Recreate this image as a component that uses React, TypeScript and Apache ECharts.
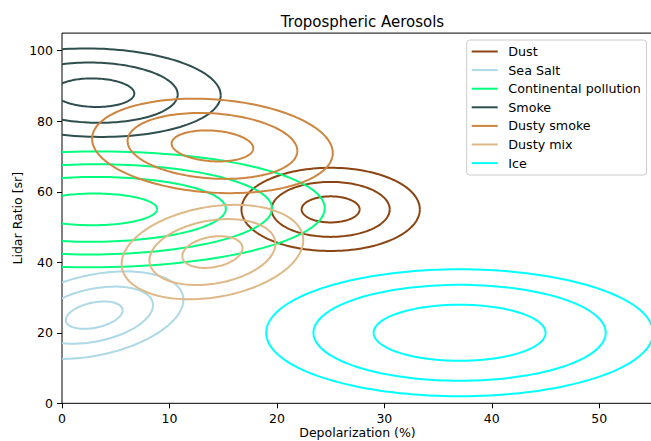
import React, { useEffect, useRef } from 'react';
import * as echarts from 'echarts';

// Aerosol types (legend order) and their colours
const categories = ['Dust', 'Sea Salt', 'Continental pollution', 'Smoke', 'Dusty smoke', 'Dusty mix', 'Ice'];
const colors = ['#8B4513', '#ADD8E6', '#00FF7F', '#2F4F4F', '#CD853F', '#DEB887', '#00FFFF'];

// Contour centres (Depolarization %, Lidar ratio sr)
const centerX = [25, 3, 2.9, 3, 14, 14, 37];
const centerY = [55, 25, 55, 88.1, 73, 42.9, 20];
// Tilt of each family of contours (correlation-like factor)
const tilt = [0, 0.35, 0.02, -0.06, -0.15, 0.25, 0];

// Half extents of each contour ring
const dustRx = [2.7, 5.5, 8.3];
const dustRy = [3.7, 7.8, 11.8];
const seaSaltRx = [2.64, 5.47, 8.3];
const seaSaltRy = [3.87, 8.1, 12.4];
const continentalRx = [5.95, 12.35, 16.65, 21.55];
const continentalRy = [4.5, 9.2, 12.8, 16.45];
const smokeRx = [3.73, 7.77, 11.77];
const smokeRy = [4.05, 8.55, 12.55];
const dustySmokeRx = [3.8, 7.9, 11.2];
const dustySmokeRy = [4.4, 9.35, 13.4];
const dustyMixRx = [2.8, 5.86, 8.45];
const dustyMixRy = [4.5, 9.35, 13.4];
const iceRx = [8.0, 13.6, 18.0];
const iceRy = [7.95, 13.6, 18.0];

const ringsX = [dustRx, seaSaltRx, continentalRx, smokeRx, dustySmokeRx, dustyMixRx, iceRx];
const ringsY = [dustRy, seaSaltRy, continentalRy, smokeRy, dustySmokeRy, dustyMixRy, iceRy];

const xTicks = [0, 10, 20, 30, 40, 50];
const yTicks = [0, 20, 40, 60, 80, 100];

const FONT = 'DejaVu Sans';

export default function App() {
  const ref = useRef<HTMLDivElement>(null);

  useEffect(() => {
    if (!ref.current) return;
    const chart = echarts.init(ref.current, undefined, { renderer: 'svg' });

    const series = categories.map((name, k) => {
      const data = ringsX[k].map((rx, i) => [centerX[k], centerY[k], rx, ringsY[k][i], tilt[k]]);
      return {
        type: 'custom',
        name,
        clip: true,
        itemStyle: { color: colors[k] },
        encode: { x: 0, y: 1 },
        data,
        renderItem: (params: any, api: any) => {
          const cx = api.value(0);
          const cy = api.value(1);
          const rx = api.value(2);
          const ry = api.value(3);
          const rho = api.value(4);
          const s = Math.sqrt(1 - rho * rho);
          const pts: number[][] = [];
          const N = 160;
          for (let i = 0; i <= N; i++) {
            const t = (2 * Math.PI * i) / N;
            const x = cx + rx * Math.cos(t);
            const y = cy + ry * (rho * Math.cos(t) + s * Math.sin(t));
            pts.push(api.coord([x, y]));
          }
          return {
            type: 'polyline',
            shape: { points: pts },
            style: { stroke: colors[k], fill: 'none', lineWidth: 2 },
          };
        },
      };
    });

    const option: any = {
      animation: false,
      color: colors,
      title: {
        text: 'Tropospheric Aerosols',
        left: 357.5,
        textAlign: 'center',
        top: 9.5,
        textStyle: { fontFamily: FONT, fontSize: 15, fontWeight: 'normal', color: '#000' },
      },
      legend: {
        orient: 'vertical',
        left: 466.7,
        top: 40,
        padding: [5, 5.7, 5.4, 5],
        itemWidth: 26,
        itemHeight: 14,
        itemGap: 5.6,
        backgroundColor: 'rgba(255,255,255,0.8)',
        borderColor: '#cccccc',
        borderWidth: 1,
        borderRadius: 3,
        selectedMode: false,
        textStyle: { fontFamily: FONT, fontSize: 12.7, color: '#000', padding: [0, 0, 0, 5.6] },
        data: categories.map((name, k) => ({
          name,
          icon: 'path://M0,0L26,0L26,2L0,2Z',
          itemStyle: { color: colors[k] },
        })),
      },
      grid: {
        left: 62,
        top: 33.1,
        bottom: 37.7,
        right: -2,
        outerBoundsMode: 'none',
        containLabel: false,
        show: true,
        borderColor: '#000',
        borderWidth: 1,
        backgroundColor: 'transparent',
      },
      xAxis: {
        type: 'value',
        min: 0,
        max: 55,
        interval: 10,
        name: 'Depolarization (%)',
        nameLocation: 'middle',
        nameGap: 23,
        nameMoveOverlap: false,
        nameTextStyle: { fontFamily: FONT, fontSize: 12.5, color: '#000' },
        axisLine: { show: false },
        axisTick: { show: true, length: 5, lineStyle: { color: '#000', width: 1 }, customValues: xTicks },
        axisLabel: {
          fontFamily: FONT,
          fontSize: 12.5,
          color: '#000',
          margin: 9,
          customValues: xTicks,
        },
        splitLine: { show: false },
      },
      yAxis: {
        type: 'value',
        min: 0,
        max: 105,
        interval: 20,
        name: 'Lidar Ratio [sr]',
        nameLocation: 'middle',
        nameGap: 38.5,
        nameMoveOverlap: false,
        nameTextStyle: { fontFamily: FONT, fontSize: 12.5, color: '#000' },
        axisLine: { show: false },
        axisTick: { show: true, length: 5, lineStyle: { color: '#000', width: 1 }, customValues: yTicks },
        axisLabel: {
          fontFamily: FONT,
          fontSize: 12.5,
          color: '#000',
          margin: 9,
          customValues: yTicks,
        },
        splitLine: { show: false },
      },
      series,
    };

    chart.setOption(option);
    return () => chart.dispose();
  }, []);

  return (
    <div
      ref={ref}
      style={{ position: 'fixed', left: 0, top: 0, width: 651, height: 441, background: '#fff' }}
    />
  );
}
